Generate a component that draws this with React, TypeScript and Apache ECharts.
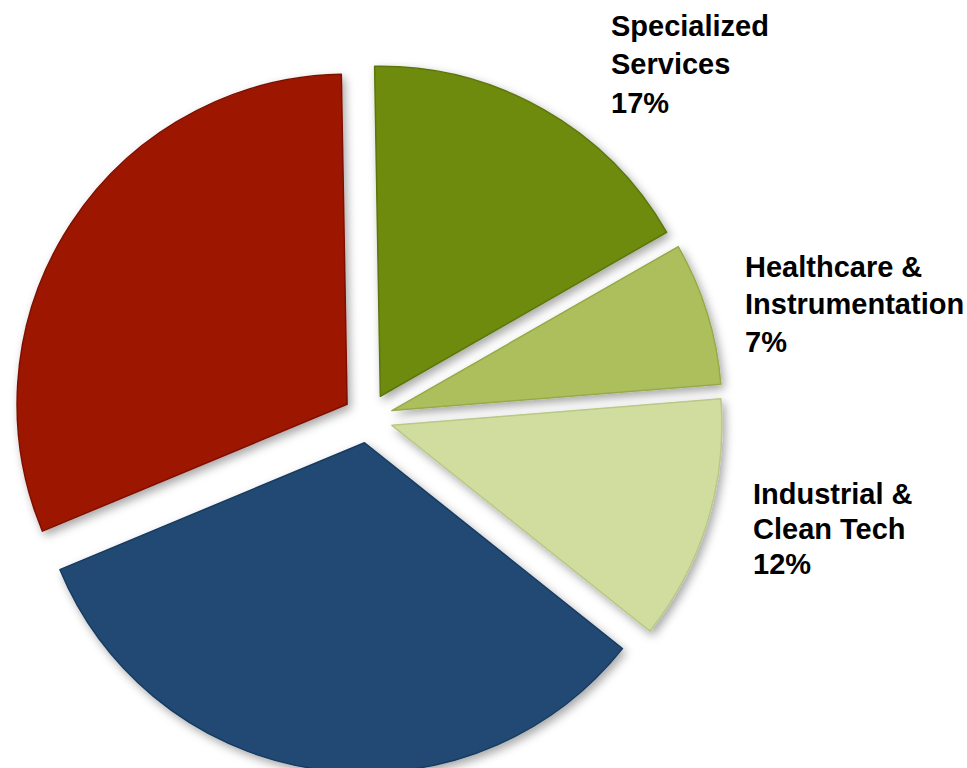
import React, { useEffect, useRef } from "react";
import * as echarts from "echarts";

// Data (clockwise from 12 o'clock)
const categories = [
  "Specialized Services",
  "Healthcare & Instrumentation",
  "Industrial & Clean Tech",
  "Segment D",
  "Segment E",
];
const labelLines = [
  ["Specialized", "Services"],
  ["Healthcare &", "Instrumentation"],
  ["Industrial &", "Clean Tech"],
  null,
  null,
];
const values = [17, 7, 12, 33, 31];
const colors = ["#6E8B0F", "#ACBF5C", "#D0DD9E", "#214A73", "#9C1706"];
const borderColors = ["#5C760B", "#97AA4A", "#B9C887", "#183B60", "#7F1004"];

// Label placement (top-left of each label block) and line heights
const labelPos: Array<[number, number, number] | null> = [
  [611, 7, 38.3],
  [745, 248, 37.5],
  [753, 476, 35],
  null,
  null,
];

export default function App() {
  const ref = useRef<HTMLDivElement>(null);

  useEffect(() => {
    if (!ref.current) return;
    const chart = echarts.init(ref.current, undefined, { renderer: "svg" });

    const data = values.map((v, i) => ({
      name: categories[i],
      value: v,
      selected: true,
      itemStyle: {
        color: colors[i],
        borderColor: borderColors[i],
        borderWidth: 1.5,
      },
    }));

    const graphics: any[] = [];
    values.forEach((v, i) => {
      const lines = labelLines[i];
      const pos = labelPos[i];
      if (!lines || !pos) return;
      graphics.push({
        type: "text",
        x: pos[0],
        y: pos[1],
        silent: true,
        style: {
          text: lines.join("\n") + "\n" + v + "%",
          fill: "#000000",
          font: 'bold 29px "Liberation Sans", Arial, sans-serif',
          lineHeight: pos[2],
          align: "left",
          verticalAlign: "top",
        },
      });
    });

    chart.setOption({
      animation: false,
      backgroundColor: "#ffffff",
      graphic: graphics,
      series: [
        {
          type: "pie",
          center: [368, 418],
          radius: 330,
          startAngle: 91,
          clockwise: true,
          selectedMode: "multiple",
          selectedOffset: 25,
          emphasis: { disabled: true },
          itemStyle: {
            shadowBlur: 10,
            shadowColor: "rgba(0,0,0,0.35)",
            shadowOffsetX: 3,
            shadowOffsetY: 4,
          },
          label: { show: false },
          labelLine: { show: false },
          data,
        },
      ],
    });

    return () => {
      chart.dispose();
    };
  }, []);

  return (
    <div
      ref={ref}
      style={{
        position: "fixed",
        left: 0,
        top: 0,
        width: 967,
        height: 768,
      }}
    />
  );
}
